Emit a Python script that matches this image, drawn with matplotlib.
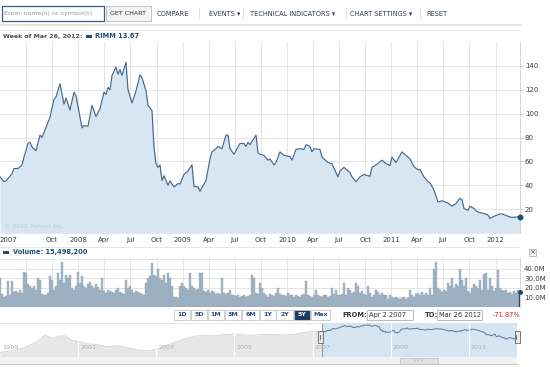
import numpy as np
import pandas as pd
import matplotlib
matplotlib.use("Agg")
import matplotlib.pyplot as plt
import matplotlib.dates as mdates
from matplotlib.patches import Rectangle

W, H = 550, 367
START = pd.Timestamp("2007-04-02")
END = pd.Timestamp("2012-03-26")

# cotizacion semanal RIMM (semanas desde 2 abr 2007, precio)
price_weeks = [0, 2, 3, 6, 7, 9, 11, 12, 14, 15, 16, 18, 20, 21, 25, 27, 28, 30, 32, 33,
               35, 37, 38, 41, 42, 44, 46, 48, 50, 52, 53, 54, 55, 56, 58, 59, 60, 61, 63, 64,
               66, 68, 70, 71, 73, 74, 76, 77, 78, 79, 80, 81, 82, 84, 85, 87, 89, 90, 92, 94,
               96, 97, 99, 100, 103, 105, 106, 108, 109, 111, 113, 114, 115, 117, 120, 122, 123, 124, 125, 128,
               129, 130, 132, 134, 135, 137, 138, 140, 142, 145, 146, 148, 150, 152, 153, 155, 156, 157, 160, 161,
               164, 166, 169, 170, 172, 175, 176, 178, 180, 182, 185, 186, 188, 191, 193, 195, 196, 198, 201, 203,
               205, 207, 209, 210, 212, 214, 215, 217, 219, 221, 224, 226, 228, 230, 231, 232, 234, 235, 237, 238,
               240, 242, 244, 245, 247, 250, 251, 254, 256, 260]
price_values = [47, 43, 43.6, 49.7, 54, 54, 57, 63.6, 75, 76, 72, 69, 82, 80, 97, 112, 114, 125, 108, 113,
                103, 118, 115, 88, 90, 89.5, 107, 97.5, 104, 118, 116, 122, 120, 132, 139, 133, 137, 132, 143, 120,
                109, 119, 132.5, 130, 119, 107, 102.5, 72, 58, 55, 57, 44, 48, 40, 43.6, 38.6, 41.4, 41, 49, 52,
                57, 39, 38.6, 35, 44, 62, 68, 70.6, 72.5, 70.6, 82, 82, 70.6, 66, 75, 75, 72.5, 76, 74, 82,
                67, 66, 65, 61, 62, 57, 59, 68, 65, 64, 61, 70, 70.6, 70, 74, 72.5, 68, 70.6, 70, 63.6,
                59, 58, 47, 52, 55, 50.6, 47, 43, 47, 49, 47.5, 55, 57, 61, 58, 56.5, 63.6, 59, 68, 65,
                62, 55.6, 53, 53, 47, 43, 42, 36, 26, 27, 25, 22.5, 24.7, 29, 28, 20.5, 19, 22.5, 20.5, 18.6,
                17, 16.4, 15, 12.2, 14, 16, 16, 14, 13, 13.67]

# volumen semanal en millones
volume_m = [30, 14, 10, 11, 27, 12, 27, 16, 17, 15,
            18, 15, 36, 35, 24, 22, 20, 22, 18, 30,
            28, 14, 12, 13, 15, 32, 28, 18, 22, 35,
            28, 47, 25, 33, 30, 33, 20, 18, 22, 36,
            25, 32, 22, 20, 24, 26, 22, 20, 24, 21,
            18, 30, 17, 15, 18, 17, 16, 15, 18, 20,
            16, 15, 14, 28, 20, 22, 18, 15, 17, 16,
            15, 14, 12, 25, 30, 32, 46, 33, 32, 40,
            30, 28, 33, 25, 35, 30, 22, 10, 10, 9,
            22, 25, 22, 20, 18, 35, 22, 20, 18, 19,
            35, 35, 17, 16, 18, 15, 17, 16, 14, 15,
            14, 30, 15, 14, 15, 18, 12, 13, 11, 12,
            10, 11, 12, 10, 11, 12, 33, 30, 15, 14,
            25, 20, 15, 12, 10, 14, 12, 11, 15, 20,
            14, 12, 13, 11, 15, 12, 13, 10, 12, 11,
            10, 12, 14, 27, 12, 11, 10, 12, 18, 12,
            11, 10, 12, 13, 10, 11, 20, 14, 18, 12,
            13, 14, 25, 12, 20, 18, 15, 16, 25, 22,
            15, 17, 14, 12, 22, 15, 10, 12, 18, 16,
            12, 15, 13, 12, 8, 12, 10, 9, 10, 9,
            8, 9, 10, 8, 9, 18, 12, 10, 14, 15,
            13, 16, 12, 15, 13, 20, 12, 40, 47, 20,
            18, 16, 18, 17, 25, 22, 30, 20, 24, 22,
            40, 28, 22, 30, 17, 15, 20, 24, 22, 20,
            28, 18, 34, 35, 18, 30, 22, 17, 20, 38,
            20, 18, 17, 18, 15, 16, 14, 17, 15, 18, 15.5]

# historico para el navegador (antes del rango seleccionado)
nav_dates = ["1999-01-01", "1999-04-01", "1999-07-01", "1999-10-01", "2000-01-01", "2000-02-01",
             "2000-03-01", "2000-05-01", "2000-07-01", "2000-09-01", "2000-11-01", "2001-01-01",
             "2001-04-01", "2001-07-01", "2001-10-01", "2002-01-01", "2002-04-01", "2002-07-01",
             "2002-10-01", "2003-01-01", "2003-04-01", "2003-07-01", "2003-10-01", "2004-01-01",
             "2004-04-01", "2004-07-01", "2004-10-01", "2005-01-01", "2005-04-01", "2005-07-01",
             "2005-10-01", "2006-01-01", "2006-04-01", "2006-07-01", "2006-10-01", "2007-01-01",
             "2007-04-02"]
nav_values = [1.3, 1.7, 2.3, 4.2, 10, 18.5, 25, 13.7, 21, 22, 10, 8.6,
              5.7, 5, 3.5, 4.2, 3.1, 2.1, 1.7, 2.3, 4.2, 7.6, 13.7, 21,
              25, 22, 28, 30, 25, 25, 28, 28, 25, 28, 38, 45, 47]

range_buttons = ["1D", "5D", "1M", "3M", "6M", "1Y", "2Y", "5Y", "Max"]
menu_items = ["COMPARE", "EVENTS \u25be", "TECHNICAL INDICATORS \u25be", "CHART SETTINGS \u25be", "RESET"]

LINEA = "#44698c"
RELLENO = "#d7e6f2"
REJILLA = "#e1e1e1"
AZUL = "#1f4d75"
TEXTO = "#3a3a3a"

plt.rcParams["font.family"] = ["DejaVu Sans"]


def caja(fig, x0, y0, x1, y1, **kw):
    """Ejes ubicados en pixeles (origen arriba a la izquierda)."""
    return fig.add_axes([x0 / W, 1 - y1 / H, (x1 - x0) / W, (y1 - y0) / H], **kw)


fig = plt.figure(figsize=(W / 100, H / 100), dpi=100)
fig.patch.set_facecolor("white")

fechas = START + pd.to_timedelta(np.array(price_weeks) * 7, unit="D")
fechas_vol = START + pd.to_timedelta(np.arange(len(volume_m)) * 7, unit="D")
trimestres = pd.date_range("2007-07-01", "2012-01-01", freq="QS")

# --- precio ---
ax = caja(fig, 0, 42, 520, 233)
ax.fill_between(fechas, price_values, 0, color=RELLENO, lw=0)
ax.plot(fechas, price_values, color=LINEA, lw=0.85)
ax.plot(fechas[-1], price_values[-1], "o", color=AZUL, ms=3.2, clip_on=False, zorder=5)
ax.set_xlim(START, END)
ax.set_ylim(0, 160)
for d in trimestres:
    ax.axvline(d, color=REJILLA, lw=0.6, zorder=0.5)
for v in range(20, 160, 20):
    ax.axhline(v, color=REJILLA, lw=0.6, zorder=0.5)
ax.yaxis.tick_right()
ax.set_yticks(range(20, 160, 20))
ax.tick_params(axis="y", labelsize=5, colors=TEXTO, length=2.5, pad=1, color="#cccccc")
xt = [START] + [d for d in trimestres if d >= pd.Timestamp("2007-10-01")]
xl = ["2007"] + [str(d.year) if d.month == 1 else d.strftime("%b") for d in xt[1:]]
ax.set_xticks(xt)
ax.set_xticklabels(xl)
ax.tick_params(axis="x", labelsize=5, colors=TEXTO, length=0, pad=3)
ax.get_xticklabels()[0].set_ha("left")
for s in ["left", "top"]:
    ax.spines[s].set_visible(False)
ax.spines["right"].set_color("#cfcfcf")
ax.spines["bottom"].set_color("#e6e6e6")
ax.spines["right"].set_linewidth(0.6)
ax.spines["bottom"].set_linewidth(0.6)
ax.text(0.008, 0.02, "\u00a9 2012 Yahoo! Inc.", transform=ax.transAxes,
        fontsize=4.5, color="#b8c9d7", va="bottom")

# --- volumen ---
av = caja(fig, 0, 258, 520, 307)
colores = ["#a6b8c7"] * (len(volume_m) - 1) + [AZUL]
bordes = ["#8299ab"] * (len(volume_m) - 1) + [AZUL]
av.bar(fechas_vol, volume_m, width=3.6, color=colores, edgecolor=bordes, lw=0.25)
av.plot(fechas_vol[-1], volume_m[-1], "o", color=AZUL, ms=2.6, clip_on=False, zorder=5)
av.set_xlim(START, END)
av.set_ylim(0, 51)
for d in trimestres:
    av.axvline(d, color=REJILLA, lw=0.6, zorder=0)
for v in range(10, 60, 10):
    av.axhline(v, color=REJILLA, lw=0.6, zorder=0)
av.set_axisbelow(True)
av.yaxis.tick_right()
av.set_yticks(range(10, 50, 10))
av.set_yticklabels([f"{v}.0M" for v in range(10, 50, 10)])
av.tick_params(axis="y", labelsize=5, colors=TEXTO, length=0, pad=3)
av.set_xticks([])
for s in ["left", "top", "bottom"]:
    av.spines[s].set_visible(False)
av.spines["right"].set_color("#cfcfcf")
av.spines["right"].set_linewidth(0.6)

# --- navegador ---
an = caja(fig, 0, 323, 517, 357)
nd = pd.to_datetime(nav_dates)
an.fill_between(nd, nav_values, 0.01, color="#e7e7e7", lw=0)
an.plot(nd, nav_values, color="#d2d2d2", lw=0.6)
an.axvspan(START, END, color="#d5e5f1", lw=0)
an.plot(fechas, price_values, color="#5b7b9a", lw=0.7)
an.set_yscale("log")
an.set_ylim(0.61, 193)
an.set_xlim(pd.Timestamp("1999-01-01"), END)
for yr in range(1999, 2012, 2):
    d = pd.Timestamp(f"{yr}-01-01")
    if yr > 1999:
        an.axvline(d, color="white", lw=0.8)
    an.text(d + pd.Timedelta(days=20), 0.28, str(yr), transform=an.get_xaxis_transform(),
            fontsize=4.6, color="#b0b0b0", va="center")
an.axvline(START, color="#5b8fc0", lw=0.6)
an.axvline(END, color="#5b8fc0", lw=0.6)
an.set_xticks([])
an.set_yticks([])
an.minorticks_off()
for s in an.spines.values():
    s.set_visible(False)

# --- capa superior en pixeles ---
ov = fig.add_axes([0, 0, 1, 1], zorder=10)
ov.set_xlim(0, W)
ov.set_ylim(H, 0)
ov.axis("off")
ov.patch.set_alpha(0)

# barra de herramientas
ov.add_patch(Rectangle((2, 6), 102, 15, fc="white", ec="#3d5a80", lw=0.9))
ov.text(4, 13.5, "Enter name(s) or symbol(s)", fontsize=4.6, color="#9a9a9a", va="center")
ov.add_patch(Rectangle((106, 6), 45, 15, fc="#f4f4f4", ec="#c4c4c4", lw=0.7))
ov.text(128.5, 13.5, "GET CHART", fontsize=4.6, color="#333333", va="center", ha="center")
xs_menu = [157, 209, 250, 350, 426]
for xm, item in zip(xs_menu, menu_items):
    ov.text(xm, 13.5, item, fontsize=4.8, color="#2e3e57", va="center")
for xs in [199, 243, 346, 420]:
    ov.plot([xs, xs], [8, 19], color="#dddddd", lw=0.6)
ov.plot([0, 520], [25, 25], color="#e4e4e4", lw=1.5)
ov.plot([0, 520], [30, 30], color="#e4e4e4", lw=0.6)

# encabezado de precio
ov.text(3, 36.5, "Week of Mar 26, 2012:", fontsize=4.5, color="#4d4d4d", va="center",
        fontweight="bold")
ov.add_patch(Rectangle((86, 35.3), 6, 2.6, fc=AZUL, ec="none"))
ov.text(95, 36.5, "RIMM 13.67", fontsize=4.8, color=AZUL, va="center", fontweight="bold")

# encabezado de volumen
ov.plot([0, 520], [247, 247], color="#e2e2e2", lw=0.6)
ov.add_patch(Rectangle((3, 251), 6, 2.6, fc=AZUL, ec="none"))
ov.text(13, 252.3, "Volume: 15,498,200", fontsize=4.8, color=AZUL, va="center", fontweight="bold")
ov.add_patch(Rectangle((528.5, 248.5), 7, 7, fc="#f6f6f6", ec="#b5b5b5", lw=0.6))
ov.text(532, 252.2, "\u00d7", fontsize=5, color="#444444", va="center", ha="center")

# botones de rango
bx = [174, 191, 208, 225, 242, 260, 276, 294, 311]
bw = [16, 16, 16, 16, 17, 16, 17, 16, 19]
for x0, w, lab in zip(bx, bw, range_buttons):
    sel = lab == "5Y"
    ov.add_patch(Rectangle((x0, 310), w, 9.5, fc="#1d3b63" if sel else "white",
                           ec="#c6c6c6", lw=0.6))
    ov.text(x0 + w / 2, 315, lab, fontsize=4.5, ha="center", va="center", fontweight="bold",
            color="white" if sel else "#2c4d77")
ov.text(342, 315, "FROM:", fontsize=4.8, color="#333333", va="center", fontweight="bold")
ov.add_patch(Rectangle((367, 309.5), 46, 10.5, fc="white", ec="#b0b0b0", lw=0.6))
ov.text(369, 315, "Apr 2 2007", fontsize=4.8, color="#333333", va="center")
ov.text(425, 315, "TO:", fontsize=4.8, color="#333333", va="center", fontweight="bold")
ov.add_patch(Rectangle((437, 309.5), 45, 10.5, fc="white", ec="#b0b0b0", lw=0.6))
ov.text(439, 315, "Mar 26 2012", fontsize=4.8, color="#333333", va="center")
ov.text(493, 315, "-71.87%", fontsize=4.8, color="#cc2222", va="center")

# marco y asas del navegador
ov.plot([0, 517], [322.5, 322.5], color="#e0e0e0", lw=0.6)
for xh in [320.5, 517]:
    ov.add_patch(Rectangle((xh - 2.5, 331), 5, 12, fc="#e8e8e8", ec="#666666", lw=0.6))
    ov.plot([xh - 0.8, xh - 0.8], [335, 339], color="#444444", lw=0.5)
ov.add_patch(Rectangle((0, 357), 517, 7, fc="#f2f2f2", ec="none"))
ov.plot([0, 517], [364, 364], color="#c9c9c9", lw=0.8)
ov.add_patch(Rectangle((400, 358), 38, 6, fc="#e2e2e2", ec="#bcbcbc", lw=0.5))
ov.text(419, 360.8, "\u2039 \u2039 \u2039", fontsize=3.6, color="#888888", ha="center", va="center")

fig.savefig("out.png", dpi=100, facecolor="white")
